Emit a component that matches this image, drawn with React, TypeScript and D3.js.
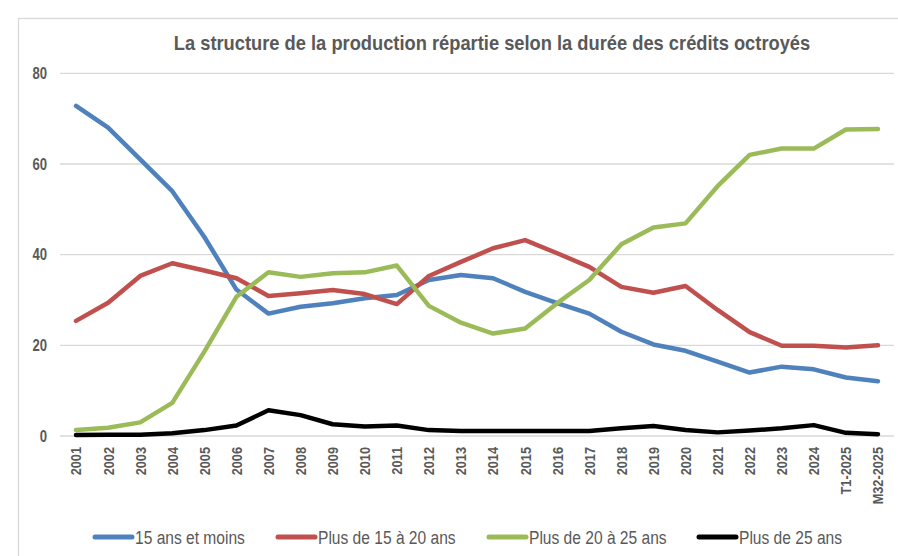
import { useEffect, useRef } from 'react';
import * as d3 from 'd3';

const periods = [
  '2001', '2002', '2003', '2004', '2005', '2006', '2007', '2008', '2009', '2010',
  '2011', '2012', '2013', '2014', '2015', '2016', '2017', '2018', '2019', '2020',
  '2021', '2022', '2023', '2024', 'T1-2025', 'M32-2025',
];

const moins15 = [
  72.8, 68.0, 61.0, 54.0, 43.9, 32.3, 27.0, 28.5, 29.3, 30.4,
  31.1, 34.4, 35.5, 34.8, 31.8, 29.3, 27.0, 23.0, 20.2, 18.8,
  16.4, 14.0, 15.3, 14.7, 12.9, 12.1,
];
const de15a20 = [
  25.4, 29.4, 35.3, 38.1, 36.5, 34.8, 30.9, 31.5, 32.2, 31.3,
  29.1, 35.3, 38.4, 41.4, 43.2, 40.3, 37.3, 32.9, 31.6, 33.1,
  27.8, 22.9, 19.9, 19.9, 19.5, 20.0,
];
const de20a25 = [
  1.3, 1.8, 3.0, 7.3, 18.6, 30.7, 36.1, 35.1, 35.9, 36.1,
  37.6, 28.7, 25.0, 22.6, 23.7, 29.3, 34.4, 42.3, 46.0, 46.9,
  55.1, 62.0, 63.4, 63.4, 67.6, 67.7,
];
const plus25 = [
  0.2, 0.3, 0.3, 0.6, 1.3, 2.3, 5.7, 4.6, 2.6, 2.1,
  2.3, 1.3, 1.1, 1.1, 1.1, 1.1, 1.1, 1.7, 2.2, 1.3,
  0.8, 1.2, 1.7, 2.4, 0.7, 0.4,
];

const seriesNames = ['15 ans et moins', 'Plus de 15 à 20 ans', 'Plus de 20 à 25 ans', 'Plus de 25 ans'];
const seriesColors = ['#4f81bd', '#c0504d', '#9bbb59', '#000000'];
const yTicks = [0, 20, 40, 60, 80];

const title = 'La structure de la production répartie selon la durée des crédits octroyés';

export default function App() {
  const svgRef = useRef<SVGSVGElement>(null);

  useEffect(() => {
    if (!svgRef.current) return;
    document.body.style.margin = '0';

    const width = 898;
    const height = 556;
    const font = '"Liberation Sans", Arial, sans-serif';
    const grey = '#595959';
    const squeeze = 0.82; // the original text is condensed

    const svg = d3.select(svgRef.current);
    svg.selectAll('*').remove();
    svg.attr('width', width).attr('height', height).style('display', 'block');

    svg.append('rect').attr('width', width).attr('height', height).attr('fill', '#fff');

    // chart frame (only left and top are in view)
    svg.append('rect')
      .attr('x', 18.5).attr('y', 18.5)
      .attr('width', 1000).attr('height', 1000)
      .attr('fill', 'none').attr('stroke', '#d9d9d9').attr('stroke-width', 1.3);

    const x = d3.scaleBand<string>().domain(periods).range([60, 894]).padding(0);
    const y = d3.scaleLinear().domain([0, 80]).range([436, 73.3]);
    const cx = (p: string) => (x(p) ?? 0) + x.bandwidth() / 2;

    // gridlines
    svg.append('g')
      .selectAll('line')
      .data(yTicks)
      .join('line')
      .attr('x1', 60).attr('x2', 894)
      .attr('y1', d => y(d)).attr('y2', d => y(d))
      .attr('stroke', '#d9d9d9').attr('stroke-width', 1.3);

    // y labels
    svg.append('g')
      .selectAll('text')
      .data(yTicks)
      .join('text')
      .attr('transform', d => `translate(47,${y(d)}) scale(${squeeze},1)`)
      .attr('dy', '0.36em')
      .attr('text-anchor', 'end')
      .attr('font-family', font).attr('font-size', 16).attr('font-weight', 'bold')
      .attr('fill', grey)
      .text(d => d);

    // x labels, rotated
    svg.append('g')
      .selectAll('text')
      .data(periods)
      .join('text')
      .attr('transform', d => `translate(${cx(d) + 5.4},447) rotate(-90) scale(0.85,1)`)
      .attr('text-anchor', 'end')
      .attr('font-family', font).attr('font-size', 15).attr('font-weight', 'bold')
      .attr('fill', grey)
      .text(d => d);

    // lines
    const allSeries = [moins15, de15a20, de20a25, plus25];
    const line = d3.line<number>()
      .x((_, i) => cx(periods[i]))
      .y(d => y(d));

    svg.append('g')
      .selectAll('path')
      .data(allSeries)
      .join('path')
      .attr('d', d => line(d))
      .attr('fill', 'none')
      .attr('stroke', (_, i) => seriesColors[i])
      .attr('stroke-width', 4.5)
      .attr('stroke-linejoin', 'round')
      .attr('stroke-linecap', 'round');

    // title, squeezed to the width of the original
    const titleText = svg.append('text')
      .attr('text-anchor', 'middle')
      .attr('font-family', font).attr('font-size', 20).attr('font-weight', 'bold')
      .attr('fill', grey)
      .text(title);
    const natural = (titleText.node() as SVGTextElement).getComputedTextLength() || 780;
    titleText.attr('transform', `translate(492,50) scale(${637 / natural},1)`);

    // legend
    const legendX = [95, 278, 489, 699];
    const legend = svg.append('g')
      .selectAll('g')
      .data(seriesNames)
      .join('g')
      .attr('transform', (_, i) => `translate(${legendX[i]},537)`);
    legend.append('line')
      .attr('x1', 0).attr('x2', 37)
      .attr('stroke', (_, i) => seriesColors[i])
      .attr('stroke-width', 5).attr('stroke-linecap', 'round');
    legend.append('text')
      .attr('transform', `translate(40,0) scale(${squeeze},1)`)
      .attr('dy', '0.36em')
      .attr('font-family', font).attr('font-size', 19)
      .attr('fill', grey)
      .text(d => d);
  }, []);

  return <svg ref={svgRef} />;
}
